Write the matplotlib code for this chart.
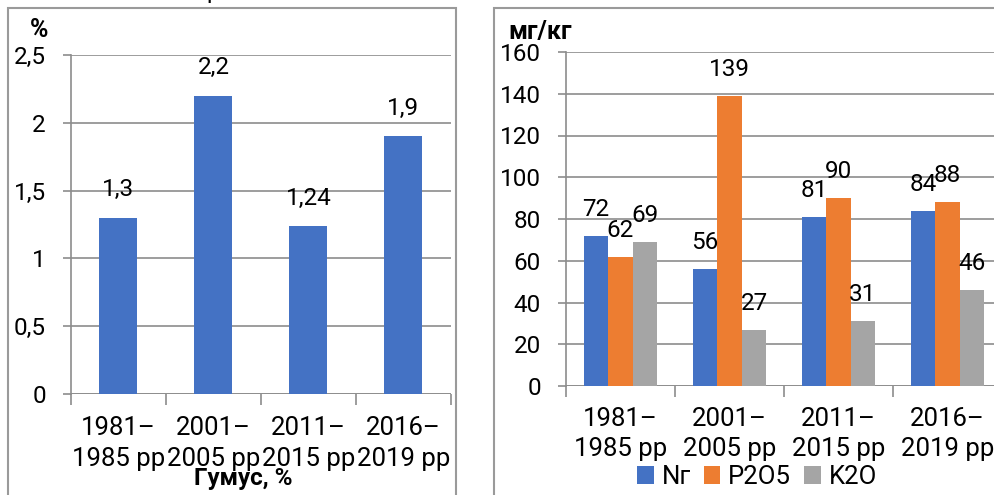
import matplotlib
matplotlib.use('Agg')
import matplotlib.pyplot as plt
import matplotlib.patches as mpatches
import numpy as np

plt.rcParams['font.family'] = ['Roboto', 'DejaVu Sans']

periods = ['1981–\n1985 рр', '2001–\n2005 рр', '2011–\n2015 рр', '2016–\n2019 рр']
humus = [1.3, 2.2, 1.24, 1.9]
n_vals = [72, 56, 81, 84]
p_vals = [62, 139, 90, 88]
k_vals = [69, 27, 31, 46]
series_names = ['Nг', 'P2O5', 'K2O']
colors = ['#4472C4', '#ED7D31', '#A5A5A5']
grid_col = '#8c8c8c'

W, H = 995, 495
fig = plt.figure(figsize=(W / 100, H / 100), dpi=100)


def px_axes(x0, y0, x1, y1):
    # pixel box (top-left origin) -> axes
    return fig.add_axes([x0 / W, 1 - y1 / H, (x1 - x0) / W, (y1 - y0) / H])


def style_axes(ax, ylim, yticks, ylabels, ncat, pad):
    ax.set_xlim(-0.5, ncat - 0.5)
    ax.set_ylim(*ylim)
    ax.set_yticks(yticks)
    ax.set_yticklabels(ylabels, fontsize=17.5)
    for s in ['top', 'right', 'bottom']:
        ax.spines[s].set_visible(False)
    ax.spines['left'].set_color(grid_col)
    ax.spines['left'].set_linewidth(1.2)
    ax.yaxis.grid(True, color=grid_col, lw=1.2)
    ax.set_axisbelow(True)
    ax.axhline(0, color=grid_col, lw=1.2, zorder=1)
    ax.tick_params(axis='y', length=6, width=1.2, color=grid_col, pad=12)
    # category boundaries as major ticks, labels on minor ticks
    ax.set_xticks(np.arange(-0.5, ncat, 1.0))
    ax.set_xticklabels([])
    ax.tick_params(axis='x', which='major', length=8, width=1.2, color=grid_col)
    ax.set_xticks(np.arange(ncat), minor=True)
    ax.set_xticklabels(periods, minor=True, fontsize=18.5, linespacing=1.35)
    ax.tick_params(axis='x', which='minor', length=0, pad=pad)


# left panel: humus
ax1 = px_axes(71, 55, 451, 394)
x = np.arange(len(periods))
ax1.bar(x, humus, width=0.4, color=colors[0], zorder=2)
style_axes(ax1, (0, 2.5), [0, 0.5, 1, 1.5, 2, 2.5],
           ['0', '0,5', '1', '1,5', '2', '2,5'], len(periods), 16)
for xi, v in zip(x, humus):
    ax1.annotate(str(v).replace('.', ','), (xi, v), xytext=(0, 20),
                 textcoords='offset points', ha='center', va='center', fontsize=17.5)

# right panel: nutrients
ax2 = px_axes(566, 52, 1002, 386)
bw = 0.225
for i, vals in enumerate([n_vals, p_vals, k_vals]):
    pos = x + (i - 1) * bw
    ax2.bar(pos, vals, width=bw, color=colors[i], zorder=2, label=series_names[i])
    for xi, v in zip(pos, vals):
        ax2.annotate(str(v), (xi, v), xytext=(0, 19), textcoords='offset points',
                     ha='center', va='center', fontsize=17.5)
style_axes(ax2, (0, 160), np.arange(0, 161, 20),
           [str(v) for v in range(0, 161, 20)], len(periods), 15)
ax2.legend(loc='center', bbox_to_anchor=(757 / W, 1 - 477 / H),
           bbox_transform=fig.transFigure, ncol=3, frameon=False, fontsize=18.5,
           handlelength=0.65, handleheight=0.65, handletextpad=0.3,
           columnspacing=0.5, borderpad=0)

# panel frames
fig.patches.append(mpatches.Rectangle((8 / W, -0.05), 448 / W, 1 - 8 / H + 0.05,
                                      transform=fig.transFigure, fill=False,
                                      edgecolor='#9a9a9a', lw=1.5))
fig.patches.append(mpatches.Rectangle((494 / W, -0.05), 0.6, 1 - 8 / H + 0.05,
                                      transform=fig.transFigure, fill=False,
                                      edgecolor='#9a9a9a', lw=1.5))

# units and captions
fig.text(39 / W, 1 - 30 / H, '%', fontsize=18, fontweight='bold', ha='center', va='center')
fig.text(540 / W, 1 - 32 / H, 'мг/кг', fontsize=18, fontweight='bold', ha='center', va='center')
fig.text(243 / W, 1 - 479 / H, 'Гумус, %', fontsize=17.5, fontweight='bold', ha='center', va='center')
fig.text(213 / W, 1 + 2 / H, 'р', fontsize=17, ha='center', va='baseline')

fig.savefig('out.png', dpi=100)
